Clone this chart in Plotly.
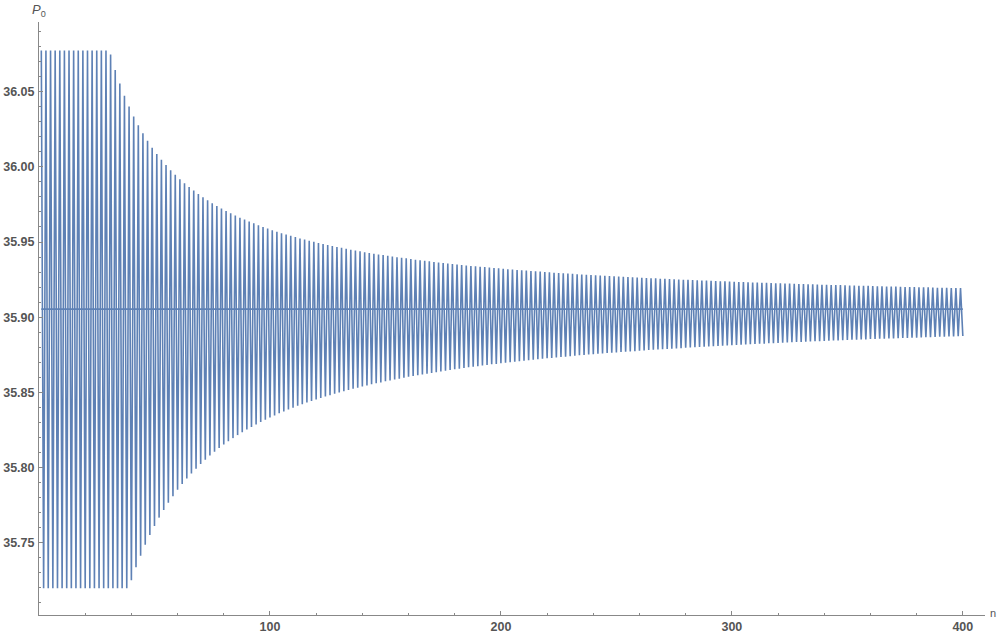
import plotly.graph_objects as go

# Upper tips of the oscillation (odd n = 1, 3, ..., 399)
upper_odd = [
    36.0774, 36.0774, 36.0774, 36.0774, 36.0774, 36.0774, 36.0774, 36.0774, 36.0774, 36.0774,
    36.0774, 36.0774, 36.0774, 36.0774, 36.0774,
    36.0747, 36.0645, 36.0554, 36.0474, 36.0401, 36.0336, 36.0277, 36.0223, 36.0173, 36.0128,
    36.0086, 36.0048, 36.0012, 35.9978, 35.9947, 35.9918, 35.9891, 35.9866, 35.9842, 35.9819,
    35.9798, 35.9778, 35.9758, 35.9740, 35.9723, 35.9707, 35.9691, 35.9677, 35.9662, 35.9649,
    35.9636, 35.9624, 35.9612, 35.9600, 35.9590, 35.9579, 35.9569, 35.9559, 35.9550, 35.9541,
    35.9533, 35.9524, 35.9516, 35.9508, 35.9501, 35.9494, 35.9487, 35.9480, 35.9473, 35.9467,
    35.9461, 35.9455, 35.9449, 35.9443, 35.9438, 35.9432, 35.9427, 35.9422, 35.9417, 35.9413,
    35.9408, 35.9403, 35.9399, 35.9395, 35.9391, 35.9386, 35.9382, 35.9379, 35.9375, 35.9371,
    35.9367, 35.9364, 35.9361, 35.9357, 35.9354, 35.9351, 35.9347, 35.9344, 35.9341, 35.9338,
    35.9336, 35.9333, 35.9330, 35.9327, 35.9325, 35.9322, 35.9319, 35.9317, 35.9314, 35.9312,
    35.9310, 35.9307, 35.9305, 35.9303, 35.9301, 35.9298, 35.9296, 35.9294, 35.9292, 35.9290,
    35.9288, 35.9286, 35.9284, 35.9282, 35.9281, 35.9279, 35.9277, 35.9275, 35.9274, 35.9272,
    35.9270, 35.9268, 35.9267, 35.9265, 35.9264, 35.9262, 35.9261, 35.9259, 35.9258, 35.9256,
    35.9255, 35.9253, 35.9252, 35.9251, 35.9249, 35.9248, 35.9247, 35.9245, 35.9244, 35.9243,
    35.9242, 35.9240, 35.9239, 35.9238, 35.9237, 35.9236, 35.9234, 35.9233, 35.9232, 35.9231,
    35.9230, 35.9229, 35.9228, 35.9227, 35.9226, 35.9225, 35.9224, 35.9223, 35.9222, 35.9221,
    35.9220, 35.9219, 35.9218, 35.9217, 35.9216, 35.9215, 35.9214, 35.9213, 35.9213, 35.9212,
    35.9211, 35.9210, 35.9209, 35.9208, 35.9208, 35.9207, 35.9206, 35.9205, 35.9204, 35.9204,
    35.9203, 35.9202, 35.9201, 35.9201, 35.9200, 35.9199, 35.9198, 35.9198, 35.9197, 35.9196,
    35.9196, 35.9195, 35.9194, 35.9194, 35.9193,
]

# Lower tips of the oscillation (even n = 2, 4, ..., 400)
lower_even = [
    35.7196, 35.7196, 35.7196, 35.7196, 35.7196, 35.7196, 35.7196, 35.7196, 35.7196, 35.7196,
    35.7196, 35.7196, 35.7196, 35.7196, 35.7196, 35.7196, 35.7196, 35.7196, 35.7196,
    35.7249, 35.7335, 35.7413, 35.7485, 35.7550, 35.7610, 35.7666, 35.7717, 35.7765, 35.7809,
    35.7851, 35.7890, 35.7926, 35.7960, 35.7992, 35.8023, 35.8051, 35.8079, 35.8104, 35.8129,
    35.8152, 35.8174, 35.8195, 35.8215, 35.8234, 35.8252, 35.8269, 35.8286, 35.8302, 35.8317,
    35.8332, 35.8346, 35.8360, 35.8373, 35.8386, 35.8398, 35.8410, 35.8421, 35.8432, 35.8442,
    35.8452, 35.8462, 35.8472, 35.8481, 35.8490, 35.8499, 35.8507, 35.8515, 35.8523, 35.8531,
    35.8538, 35.8546, 35.8553, 35.8560, 35.8566, 35.8573, 35.8579, 35.8585, 35.8591, 35.8597,
    35.8603, 35.8608, 35.8614, 35.8619, 35.8624, 35.8629, 35.8634, 35.8639, 35.8644, 35.8648,
    35.8653, 35.8657, 35.8662, 35.8666, 35.8670, 35.8674, 35.8678, 35.8682, 35.8686, 35.8689,
    35.8693, 35.8697, 35.8700, 35.8704, 35.8707, 35.8710, 35.8714, 35.8717, 35.8720, 35.8723,
    35.8726, 35.8729, 35.8732, 35.8735, 35.8737, 35.8740, 35.8743, 35.8746, 35.8748, 35.8751,
    35.8753, 35.8756, 35.8758, 35.8761, 35.8763, 35.8765, 35.8768, 35.8770, 35.8772, 35.8774,
    35.8776, 35.8779, 35.8781, 35.8783, 35.8785, 35.8787, 35.8789, 35.8790, 35.8792, 35.8794,
    35.8796, 35.8798, 35.8800, 35.8802, 35.8803, 35.8805, 35.8807, 35.8808, 35.8810, 35.8812,
    35.8813, 35.8815, 35.8816, 35.8818, 35.8820, 35.8821, 35.8823, 35.8824, 35.8826, 35.8827,
    35.8828, 35.8830, 35.8831, 35.8833, 35.8834, 35.8835, 35.8837, 35.8838, 35.8839, 35.8840,
    35.8842, 35.8843, 35.8844, 35.8845, 35.8847, 35.8848, 35.8849, 35.8850, 35.8851, 35.8852,
    35.8854, 35.8855, 35.8856, 35.8857, 35.8858, 35.8859, 35.8860, 35.8861, 35.8862, 35.8863,
    35.8864, 35.8865, 35.8866, 35.8867, 35.8868, 35.8869, 35.8870, 35.8871, 35.8872, 35.8873,
    35.8874,
]

# Horizontal reference level and its n extent
fixed_level = 35.9054
fixed_n = [1, 400]

x_tick_vals = [100, 200, 300, 400]
x_minor_vals = list(range(20, 401, 20))
y_tick_vals = [35.75, 35.80, 35.85, 35.90, 35.95, 36.00, 36.05]
y_minor_vals = [round(35.71 + 0.01 * i, 2) for i in range(39)]

# Build the interleaved series
n_vals = []
p0_vals = []
for i in range(len(upper_odd)):
    n_vals.append(2 * i + 1)
    p0_vals.append(upper_odd[i])
    n_vals.append(2 * i + 2)
    p0_vals.append(lower_even[i])

LINE = "#5E81B5"
AXIS = "#888888"
TXT = "#555555"
FONT = "Liberation Sans"

fig = go.Figure()
fig.add_trace(go.Scatter(x=n_vals, y=p0_vals, mode="lines",
                         line=dict(color=LINE, width=1.6), hoverinfo="skip"))
fig.add_trace(go.Scatter(x=fixed_n, y=[fixed_level, fixed_level], mode="lines",
                         line=dict(color=LINE, width=1.8), hoverinfo="skip"))

fig.update_layout(
    width=1000, height=634,
    margin=dict(l=39, r=15, t=22, b=19, pad=0, autoexpand=False),
    paper_bgcolor="white", plot_bgcolor="white",
    showlegend=False,
    font=dict(family=FONT, size=12, color=TXT),
    xaxis=dict(
        range=[0, 409.6], showgrid=False, zeroline=False, automargin=False,
        showline=True, linecolor=AXIS, linewidth=1,
        tickmode="array", tickvals=x_tick_vals,
        ticks="inside", ticklen=4, tickcolor=AXIS, tickwidth=1,
        tickfont=dict(family=FONT, size=12.5, color=TXT, weight="bold"),
        minor=dict(tickmode="array", tickvals=x_minor_vals, ticks="inside",
                   ticklen=2, tickcolor=AXIS, showgrid=False),
    ),
    yaxis=dict(
        range=[35.7018, 36.0964], showgrid=False, zeroline=False, automargin=False,
        showline=True, linecolor=AXIS, linewidth=1,
        tickmode="array", tickvals=y_tick_vals, tickformat=".2f",
        ticks="inside", ticklen=4, tickcolor=AXIS, tickwidth=1,
        tickfont=dict(family=FONT, size=12.5, color=TXT, weight="bold"),
        ticklabelstandoff=1,
        minor=dict(tickmode="array", tickvals=y_minor_vals, ticks="inside",
                   ticklen=2, tickcolor=AXIS, showgrid=False),
    ),
    annotations=[
        dict(text="<i>P</i><sub>0</sub>", xref="paper", yref="paper",
             x=0, y=1, xanchor="center", yanchor="bottom", yshift=1,
             showarrow=False, font=dict(family=FONT, size=13, color=TXT)),
        dict(text="n", xref="paper", yref="paper",
             x=1, y=0, xanchor="left", yanchor="bottom", xshift=3, yshift=-6,
             showarrow=False, font=dict(family=FONT, size=11, color=TXT)),
    ],
)

fig.write_html(
    "out.html",
    config={"displayModeBar": False, "staticPlot": True},
    post_script="document.body.style.margin='0';document.body.style.overflow='hidden';",
)
